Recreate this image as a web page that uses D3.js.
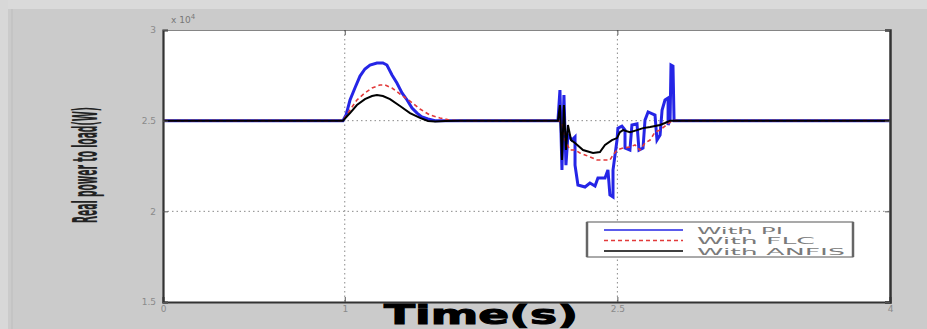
<!DOCTYPE html>
<html>
<head>
<meta charset="utf-8">
<script src="https://cdn.jsdelivr.net/npm/d3@7"></script>
<style>
  html, body { margin: 0; padding: 0; background: #cbcbcb; }
  svg { display: block; }
</style>
</head>
<body>
<svg id="chart" width="927" height="329"></svg>
<script>
// ---------- data (power in x10^4 W, time in s) ----------
const xTicks = [0, 1, 2.5, 4];
const xTickLabels = ["0", "1", "2.5", "4"];
const yTicks = [1.5, 2, 2.5, 3];
const yTickLabels = ["1.5", "2", "2.5", "3"];
const gridX = [1, 2.5];
const gridY = [2, 2.5];
const seriesNames = ["With PI", "With FLC", "With ANFIS"];
const seriesColors = ["#2525e6", "#e23a3a", "#000000"];

const timePI = [0, 0.99, 1.007, 1.029, 1.056, 1.084, 1.111, 1.139, 1.177, 1.210, 1.232, 1.260, 1.287, 1.315, 1.343, 1.370, 1.398, 1.425, 1.458, 1.497, 2.173,
  2.184, 2.195, 2.206, 2.217, 2.228, 2.250, 2.267, 2.267, 2.283, 2.322, 2.349, 2.377, 2.393, 2.432, 2.448, 2.459, 2.476, 2.476, 2.498, 2.503, 2.525, 2.542, 2.542, 2.569, 2.580, 2.608, 2.619, 2.641, 2.652, 2.669, 2.707, 2.718, 2.735, 2.746, 2.762, 2.779, 2.779, 2.790, 2.795, 2.806, 2.812, 4];
const powerPI = [2.5, 2.5, 2.531, 2.614, 2.680, 2.746, 2.785, 2.807, 2.818, 2.818, 2.807, 2.752, 2.708, 2.653, 2.614, 2.570, 2.542, 2.520, 2.509, 2.5, 2.5,
  2.669, 2.228, 2.641, 2.255, 2.421, 2.393, 2.410, 2.255, 2.145, 2.134, 2.156, 2.140, 2.184, 2.184, 2.228, 2.090, 2.079, 2.228, 2.393, 2.459, 2.470, 2.448, 2.349, 2.338, 2.476, 2.482, 2.338, 2.349, 2.503, 2.548, 2.531, 2.393, 2.421, 2.559, 2.614, 2.625, 2.476, 2.503, 2.807, 2.801, 2.5, 2.5];

const timeFLC = [0, 0.99, 1.029, 1.067, 1.111, 1.150, 1.194, 1.221, 1.260, 1.304, 1.359, 1.414, 1.469, 1.524, 1.579, 1.634, 2.173,
  2.195, 2.212, 2.239, 2.267, 2.294, 2.322, 2.349, 2.388, 2.432, 2.459, 2.476, 2.498, 2.531, 2.569, 2.597, 2.624, 2.652, 2.680, 2.707, 2.735, 2.762, 2.790, 2.806, 4];
const powerFLC = [2.5, 2.5, 2.559, 2.614, 2.653, 2.680, 2.697, 2.697, 2.680, 2.647, 2.608, 2.564, 2.531, 2.515, 2.503, 2.5, 2.5,
  2.492, 2.393, 2.338, 2.338, 2.322, 2.311, 2.300, 2.283, 2.283, 2.283, 2.311, 2.338, 2.349, 2.355, 2.366, 2.338, 2.377, 2.393, 2.437, 2.448, 2.470, 2.492, 2.5, 2.5];

const timeANFIS = [0, 0.99, 1.029, 1.067, 1.111, 1.150, 1.177, 1.210, 1.249, 1.304, 1.359, 1.414, 1.458, 1.497, 1.552, 1.634, 2.173,
  2.184, 2.195, 2.206, 2.217, 2.228, 2.245, 2.267, 2.311, 2.366, 2.404, 2.432, 2.470, 2.498, 2.514, 2.531, 2.569, 2.608, 2.641, 2.680, 2.735, 2.762, 2.790, 4];
const powerANFIS = [2.5, 2.5, 2.542, 2.586, 2.619, 2.636, 2.641, 2.636, 2.619, 2.581, 2.542, 2.515, 2.498, 2.495, 2.498, 2.5, 2.5,
  2.586, 2.283, 2.586, 2.338, 2.476, 2.393, 2.377, 2.338, 2.322, 2.327, 2.366, 2.393, 2.404, 2.437, 2.448, 2.437, 2.448, 2.459, 2.465, 2.476, 2.487, 2.5, 2.5];

const xLabel = "Time(s)";
const yLabel = "Real power to load(W)";
const exponentLabel = "x 10";
const exponentSup = "4";

// ---------- drawing ----------
const svg = d3.select("#chart");
const W = 927, H = 329;
const m = { left: 163, right: 890, top: 30, bottom: 302 };

// figure background bands
svg.append("rect").attr("x", 0).attr("y", 0).attr("width", W).attr("height", H).attr("fill", "#cbcbcb");
svg.append("rect").attr("x", 0).attr("y", 0).attr("width", W).attr("height", 9).attr("fill", "#dadada");
svg.append("rect").attr("x", 0).attr("y", 0).attr("width", 8).attr("height", H).attr("fill", "#d8d8d8");
svg.append("line").attr("x1", 12).attr("x2", 12).attr("y1", 9).attr("y2", H).attr("stroke", "#bdbdbd").attr("stroke-width", 1);

const x = d3.scaleLinear().domain([0, 4]).range([m.left, m.right]);
const y = d3.scaleLinear().domain([1.5, 3]).range([m.bottom, m.top]);

// plot area
svg.append("rect").attr("x", m.left).attr("y", m.top)
  .attr("width", m.right - m.left).attr("height", m.bottom - m.top).attr("fill", "#ffffff");

// grid
const grid = svg.append("g");
grid.selectAll(".gx").data(gridX).enter().append("line")
  .attr("x1", d => x(d)).attr("x2", d => x(d)).attr("y1", m.top).attr("y2", m.bottom)
  .attr("stroke", "#8a8a8a").attr("stroke-width", 1).attr("stroke-dasharray", "1.5,3");
grid.selectAll(".gy").data(gridY).enter().append("line")
  .attr("x1", m.left).attr("x2", m.right).attr("y1", d => y(d)).attr("y2", d => y(d))
  .attr("stroke", "#8a8a8a").attr("stroke-width", 1).attr("stroke-dasharray", "1.5,3");

// series
const line = d3.line().x(d => x(d[0])).y(d => y(d[1]));
const zip = (a, b) => a.map((t, i) => [t, b[i]]);
const series = [
  { data: zip(timePI, powerPI), color: seriesColors[0], width: 3, dash: null },
  { data: zip(timeFLC, powerFLC), color: seriesColors[1], width: 1.6, dash: "4,3" },
  { data: zip(timeANFIS, powerANFIS), color: seriesColors[2], width: 2, dash: null }
];
svg.append("clipPath").attr("id", "clip").append("rect")
  .attr("x", m.left).attr("y", m.top).attr("width", m.right - m.left).attr("height", m.bottom - m.top);
svg.append("g").attr("clip-path", "url(#clip)").selectAll("path").data(series).enter().append("path")
  .attr("d", d => line(d.data)).attr("fill", "none")
  .attr("stroke", d => d.color).attr("stroke-width", d => d.width)
  .attr("stroke-dasharray", d => d.dash).attr("stroke-linejoin", "miter");

// axes (inward ticks, MATLAB style)
const tickCol = "#555";
const axB = d3.axisBottom(x).tickValues(xTicks).tickSize(-5).tickPadding(4).tickFormat((d, i) => xTickLabels[i]);
const axT = d3.axisTop(x).tickValues(xTicks).tickSize(-5).tickFormat("");
const axL = d3.axisLeft(y).tickValues(yTicks).tickSize(-5).tickPadding(7).tickFormat((d, i) => yTickLabels[i]);
const axR = d3.axisRight(y).tickValues(yTicks).tickSize(-5).tickFormat("");
function styleAxis(g, w) {
  g.selectAll(".domain").attr("stroke", "#333").attr("stroke-width", w);
  g.selectAll(".tick line").attr("stroke", tickCol);
  g.selectAll("text").attr("fill", "#8a8a8a").style("font-family", "DejaVu Sans, sans-serif").style("font-size", "9px");
}
svg.append("g").attr("transform", `translate(0,${m.bottom})`).call(axB).call(g => styleAxis(g, 2));
svg.append("g").attr("transform", `translate(0,${m.top})`).call(axT).call(g => styleAxis(g, 0.6));
svg.append("g").attr("transform", `translate(${m.left},0)`).call(axL).call(g => styleAxis(g, 2.2));
svg.append("g").attr("transform", `translate(${m.right},0)`).call(axR).call(g => styleAxis(g, 2.5));

// exponent label
const ex = svg.append("text").attr("x", m.left + 8).attr("y", m.top - 7)
  .attr("fill", "#777").style("font-family", "DejaVu Sans, sans-serif").style("font-size", "9px");
ex.append("tspan").text(exponentLabel);
ex.append("tspan").attr("dy", -4).style("font-size", "7px").text(exponentSup);

// helper: fit a text to a target length by scaling along its direction
function fitText(sel, target) {
  const len = sel.node().getComputedTextLength();
  return target / len;
}

// x label
const xl = svg.append("text").attr("text-anchor", "middle").attr("fill", "#000")
  .attr("stroke", "#000").attr("stroke-width", 1)
  .style("font-family", "DejaVu Sans, sans-serif").style("font-weight", "bold").style("font-size", "27px")
  .text(xLabel);
const sx = fitText(xl, 194);
xl.attr("transform", `translate(481,324) scale(${sx},1)`);

// y label
const yl = svg.append("text").attr("text-anchor", "middle").attr("fill", "#222")
  .style("font-family", "Liberation Sans Narrow, DejaVu Sans Condensed, sans-serif").style("font-weight", "bold").style("font-size", "34px")
  .text(yLabel);
const sy = fitText(yl, 116);
yl.attr("transform", `translate(97,165) rotate(-90) scale(${sy},1)`);

// legend
const legendTextWidths = [86, 118, 148];
const lg = svg.append("g").attr("transform", "translate(587,222)");
lg.append("rect").attr("x", 0).attr("y", 0).attr("width", 266).attr("height", 35)
  .attr("fill", "#fff").attr("stroke", "#555").attr("stroke-width", 1);
lg.append("line").attr("x1", 0).attr("x2", 0).attr("y1", 0).attr("y2", 35).attr("stroke", "#666").attr("stroke-width", 2.5);
lg.append("line").attr("x1", 266).attr("x2", 266).attr("y1", 0).attr("y2", 35).attr("stroke", "#666").attr("stroke-width", 2.5);
const rows = lg.selectAll(".row").data(series).enter().append("g")
  .attr("transform", (d, i) => `translate(0,${8 + i * 10.5})`);
rows.append("line").attr("x1", 17).attr("x2", 96).attr("y1", 0).attr("y2", 0)
  .attr("stroke", d => d.color).attr("stroke-width", 1.5)
  .attr("stroke-dasharray", d => d.dash);
rows.append("text").attr("x", 110).attr("y", 3.5).attr("fill", "#7a7a7a")
  .style("font-family", "DejaVu Sans, sans-serif").style("font-size", "9px")
  .attr("textLength", (d, i) => legendTextWidths[i]).attr("lengthAdjust", "spacingAndGlyphs")
  .text((d, i) => seriesNames[i]);
</script>
</body>
</html>
